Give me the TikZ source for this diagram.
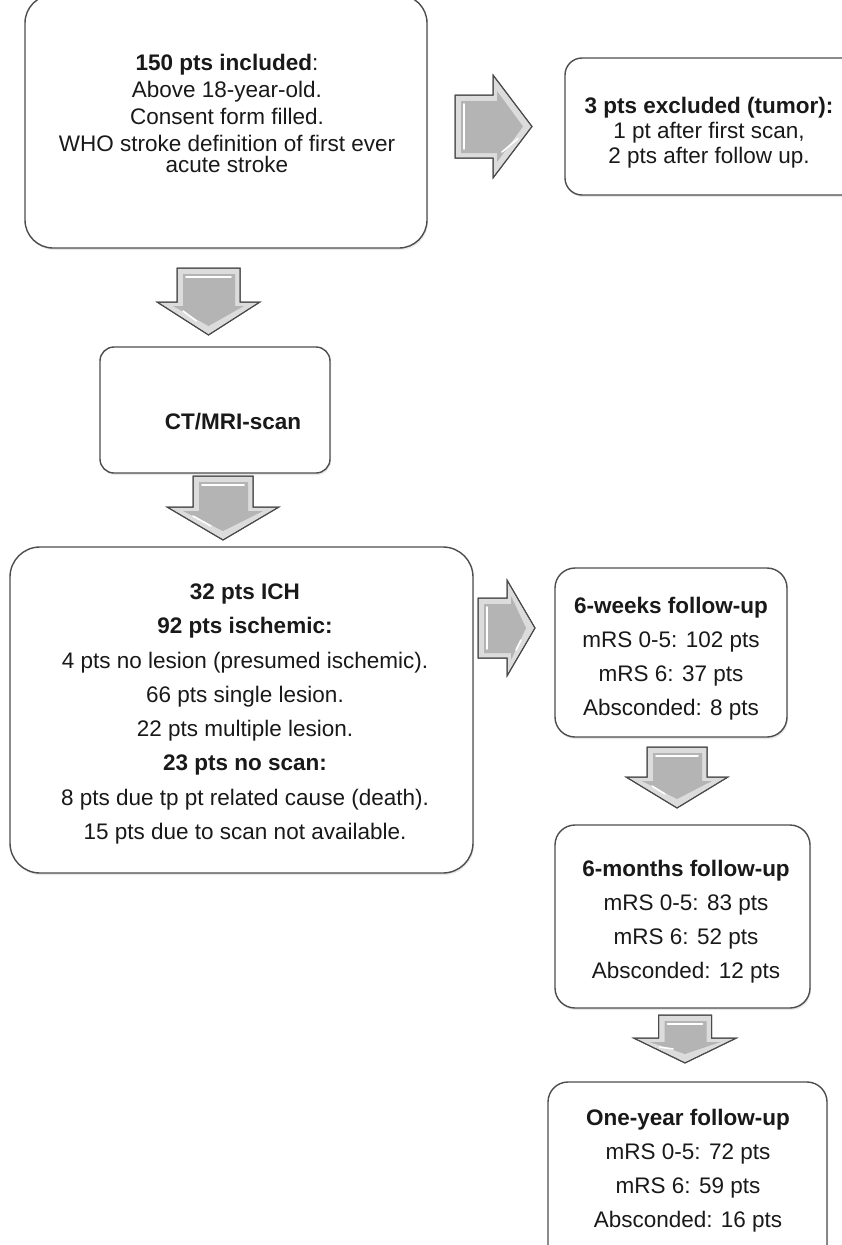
\documentclass[tikz,border=0pt]{standalone}
\usepackage{fontspec}
\setmainfont{Liberation Sans}
\usetikzlibrary{shadows}
\definecolor{arrface}{HTML}{B4B4B4}
\definecolor{arrbev}{HTML}{DCDCDC}
\definecolor{arredge}{HTML}{4A4A4A}
\definecolor{boxedge}{HTML}{4D4D4D}
\tikzset{
  box/.style={draw=boxedge, line width=1.4pt, fill=white, inner sep=0pt,
    drop shadow={opacity=0.18, shadow xshift=1pt, shadow yshift=-2pt}},
  txt/.style={align=center, inner sep=0pt, anchor=north, text=black!90},
  big/.style={font=\fontsize{22.5}{34.3}\selectfont},
  arrbody/.style={fill=arrbev, draw=arredge, line width=1pt, line join=miter},
  arrin/.style={fill=arrface},
}
% down block arrow: cx, ytop, bw, hw, yhead, ytip
\newcommand\barrowd[6]{%
  \path[arrbody] (#1-#3,#2) -- (#1+#3,#2) -- (#1+#3,#5) -- (#1+#4,#5) -- (#1,#6) -- (#1-#4,#5) -- (#1-#3,#5) -- cycle;
  \fill[arrin] (#1-#3+6,#2+6) -- (#1+#3-5,#2+6) -- (#1+#3-5,#5+4) -- (#1+#4-16,#5+4) -- (#1,#6-9) -- (#1-#4+16,#5+4) -- (#1-#3+6,#5+4) -- cycle;
  \draw[white, line width=1.6pt, line cap=round] (#1-#3+9,#2+9) -- (#1+#3-9,#2+9);
  \draw[white, line width=1.6pt, line cap=round] (#1-#4+26,#5+9) -- (#1-12,#6-14);
  \path[draw=arredge, line width=1pt] (#1-#3,#2) -- (#1+#3,#2) -- (#1+#3,#5) -- (#1+#4,#5) -- (#1,#6) -- (#1-#4,#5) -- (#1-#3,#5) -- cycle;
}
% right block arrow: xleft, cy, bw, hw, xhead, xtip
\newcommand\barrowr[6]{%
  \path[arrbody] (#1,#2-#3) -- (#5,#2-#3) -- (#5,#2-#4) -- (#6,#2) -- (#5,#2+#4) -- (#5,#2+#3) -- (#1,#2+#3) -- cycle;
  \fill[arrin] (#1+6,#2-#3+6) -- (#5+4,#2-#3+6) -- (#5+4,#2-#4+16) -- (#6-9,#2) -- (#5+4,#2+#4-16) -- (#5+4,#2+#3-5) -- (#1+6,#2+#3-5) -- cycle;
  \draw[white, line width=1.6pt, line cap=round] (#1+9,#2-#3+9) -- (#1+9,#2+#3-9);
  \draw[white, line width=1.6pt, line cap=round] (#5+9,#2+#4-26) -- (#6-14,#2+12);
  \path[draw=arredge, line width=1pt] (#1,#2-#3) -- (#5,#2-#3) -- (#5,#2-#4) -- (#6,#2) -- (#5,#2+#4) -- (#5,#2+#3) -- (#1,#2+#3) -- cycle;
}
\begin{document}
\begin{tikzpicture}[x=1pt, y=-1pt]
\useasboundingbox (0,0) rectangle (842,1245);
\clip (0,0) rectangle (842,1245);
\fill[white] (0,0) rectangle (842,1245);

% boxes
\node[box, rounded corners=28pt, minimum width=402pt, minimum height=253pt] (incl) at (226,121.5) {};
\node[box, rounded corners=17pt, minimum width=305pt, minimum height=137pt] (excl) at (717.5,126.5) {};
\node[box, rounded corners=14pt, minimum width=230pt, minimum height=126pt] (scan) at (215,410) {};
\node[box, rounded corners=30pt, minimum width=463pt, minimum height=326pt] (res) at (241.5,710) {};
\node[box, rounded corners=20pt, minimum width=232pt, minimum height=169pt] (wk) at (671,652.5) {};
\node[box, rounded corners=20pt, minimum width=255pt, minimum height=183pt] (mo) at (682.5,916.5) {};
\node[box, rounded corners=20pt, minimum width=279pt, minimum height=188pt] (yr) at (687.5,1176) {};

% texts
\node[txt, font=\fontsize{22.5}{27.3}\selectfont] (inclt) at (227,53.5)
  {\textbf{150 pts included}:\\ Above 18-year-old.\\ Consent form filled.\\ WHO stroke definition of first ever\\[-6.5pt] acute stroke};
\node[txt, font=\fontsize{22.5}{25}\selectfont] (exclt) at (709,96.5)
  {\textbf{3 pts excluded (tumor):}\\ 1 pt after first scan,\\ 2 pts after follow up.};
\node[txt, font=\fontsize{22.5}{24}\selectfont] (scant) at (233,412.5) {\textbf{CT/MRI-scan}};
\node[txt, big] (rest) at (245,583.5)
  {\textbf{32 pts ICH}\\ \textbf{92 pts ischemic:}\\ 4 pts no lesion (presumed ischemic).\\ 66 pts single lesion.\\ 22 pts multiple lesion.\\ \textbf{23 pts no scan:}\\ 8 pts due tp pt related cause (death).\\ 15 pts due to scan not available.};
\node[txt, big] (wkt) at (671,596.5)
  {\textbf{6-weeks follow-up}\\ mRS 0-5: 102 pts\\ mRS 6: 37 pts\\ Absconded: 8 pts};
\node[txt, big] (mot) at (686,859.5)
  {\textbf{6-months follow-up}\\ mRS 0-5: 83 pts\\ mRS 6: 52 pts\\ Absconded: 12 pts};
\node[txt, big] (yrt) at (688,1108.5)
  {\textbf{One-year follow-up}\\ mRS 0-5: 72 pts\\ mRS 6: 59 pts\\ Absconded: 16 pts};

% block arrows (connectors)
\barrowr{455}{126.5}{31.5}{51.5}{493}{532}
\barrowd{208.5}{268}{31.5}{51.5}{302}{335}
\barrowd{223}{476}{30}{56}{507}{540}
\barrowr{478}{628}{30}{48}{507}{535}
\barrowd{677}{747}{30}{51}{777}{808}
\barrowd{685}{1015}{26.5}{51.5}{1038}{1063}
\end{tikzpicture}
\end{document}
